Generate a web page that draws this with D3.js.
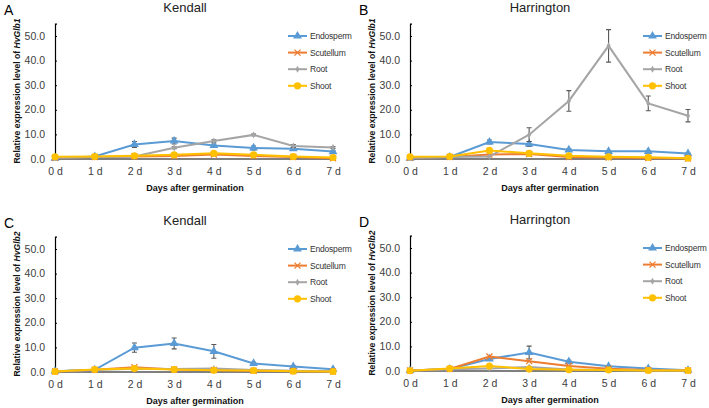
<!DOCTYPE html>
<html><head><meta charset="utf-8">
<script src="https://cdn.jsdelivr.net/npm/d3@7"></script>
<style>body{margin:0;background:#fff}svg{display:block}</style>
</head><body><svg id="c" width="709" height="408"></svg>
<script>
const days = ["0 d","1 d","2 d","3 d","4 d","5 d","6 d","7 d"];
const seriesNames = ["Endosperm","Scutellum","Root","Shoot"];
const seriesColors = ["#5B9BD5","#ED7D31","#A5A5A5","#FFC000"];
const yTicks = [0,10,20,30,40,50];
const panelLetters = ["A","B","C","D"];
const panelTitles = ["Kendall","Harrington","Kendall","Harrington"];
const panelGenes = ["HvGlb1","HvGlb1","HvGlb2","HvGlb2"];

// Panel A: Kendall HvGlb1
const aEndosperm = [0.3,1.0,5.9,7.3,5.5,4.5,4.2,3.0];
const aScutellum = [0.5,0.8,1.0,1.2,1.8,1.2,0.8,0.3];
const aRoot      = [0.5,0.8,1.0,4.6,7.3,9.8,5.3,4.7];
const aShoot     = [0.9,1.0,1.3,1.7,2.3,1.7,1.0,0.6];
const aErrEndosperm = [0,0,1.2,1.2,0.6,0.8,0.6,0.3];
const aErrRoot      = [0,0,0,0.4,0.5,0.3,0.6,0.4];

// Panel B: Harrington HvGlb1
const bEndosperm = [0.3,0.8,6.9,6.1,3.7,3.1,3.1,2.2];
const bScutellum = [0.5,0.8,1.8,2.0,0.8,0.6,0.4,0.2];
const bRoot      = [0.5,0.8,1.0,9.9,23.6,46.0,22.6,17.6];
const bShoot     = [0.9,1.0,3.5,2.3,1.3,0.9,0.7,0.3];
const bErrEndosperm = [0,0,0.8,1.0,0.4,0.3,0.3,0.2];
const bErrRoot      = [0,0,0,2.8,4.2,6.6,3.0,2.5];

// Panel C: Kendall HvGlb2
const cEndosperm = [0.3,0.9,9.9,11.6,8.4,3.5,2.2,1.1];
const cScutellum = [0.2,0.9,1.9,1.0,0.8,0.5,0.4,0.2];
const cRoot      = [0.3,0.8,1.3,1.2,1.4,0.8,0.5,0.3];
const cShoot     = [0.2,1.0,1.4,1.0,0.7,0.6,0.3,0.2];
const cErrEndosperm = [0,0,1.9,2.2,2.8,0.4,0.3,0.2];
const cErrRoot      = [0,0,0,0,0,0,0,0];

// Panel D: Harrington HvGlb2
const dEndosperm = [0.2,0.8,4.9,7.5,3.8,1.9,1.0,0.3];
const dScutellum = [0.2,0.8,5.9,4.0,2.0,0.9,0.4,0.2];
const dRoot      = [0.2,0.7,1.0,1.6,0.6,0.4,0.2,0.2];
const dShoot     = [0.1,1.0,2.0,0.8,0.5,0.4,0.2,0.2];
const dErrEndosperm = [0,0,0.5,2.6,0.6,0.3,0.2,0.1];
const dErrRoot      = [0,0,0,0,0,0,0,0];

const panelSeries = [
  [aEndosperm,aScutellum,aRoot,aShoot],
  [bEndosperm,bScutellum,bRoot,bShoot],
  [cEndosperm,cScutellum,cRoot,cShoot],
  [dEndosperm,dScutellum,dRoot,dShoot]
];
const panelErrors = [
  [aErrEndosperm,null,aErrRoot,null],
  [bErrEndosperm,null,bErrRoot,null],
  [cErrEndosperm,null,cErrRoot,null],
  [dErrEndosperm,null,dErrRoot,null]
];

const svg = d3.select("#c");
const FONT = "Liberation Sans, Arial, sans-serif";
const origins = [[0,0],[355,0],[0,213],[355,212]];

function marker(g, idx, x, y, color){
  if(idx===0){
    g.append("path").attr("d", d3.symbol(d3.symbolTriangle, 34)()).attr("transform",`translate(${x},${y})`).attr("fill",color);
  } else if(idx===1){
    const s=3;
    g.append("path").attr("d",`M${x-s},${y-s}L${x+s},${y+s}M${x-s},${y+s}L${x+s},${y-s}`).attr("stroke",color).attr("stroke-width",1.3).attr("fill","none");
  } else if(idx===2){
    g.append("path").attr("d", d3.symbol(d3.symbolDiamond, 14)()).attr("transform",`translate(${x},${y})`).attr("fill",color);
  } else {
    g.append("circle").attr("cx",x).attr("cy",y).attr("r",3.6).attr("fill",color);
  }
}

panelSeries.forEach((series, p) => {
  const [ox, oy] = origins[p];
  const g = svg.append("g");
  const x = d3.scalePoint().domain(days).range([ox+55, ox+333]);
  const y = d3.scaleLinear().domain([0,55]).range([oy+159, oy+159-135.3]);

  // letter & title
  g.append("text").attr("x", ox+4).attr("y", oy+15).attr("font-family",FONT).attr("font-size",14).attr("fill","#000").text(panelLetters[p]);
  g.append("text").attr("x", ox+185).attr("y", oy+12).attr("text-anchor","middle").attr("font-family",FONT).attr("font-size",13).attr("fill","#222").text(panelTitles[p]);

  // y axis
  const ya = g.append("g").attr("transform",`translate(${ox+55},0)`)
    .call(d3.axisRight(y).tickValues(yTicks).tickSize(2).tickFormat(""));
  ya.select(".domain").attr("stroke","#000").attr("stroke-width",1.2);
  ya.selectAll(".tick line").attr("stroke","#000");
  g.selectAll(null).data(yTicks).enter().append("text")
    .attr("x", ox+45).attr("y", d=>y(d)).attr("dy","0.35em").attr("text-anchor","end")
    .attr("font-family",FONT).attr("font-size",10.5).attr("fill","#404040").text(d=>d3.format(".1f")(d));

  // x axis
  const xa = g.append("g").attr("transform",`translate(0,${y(0)})`)
    .call(d3.axisBottom(x).tickSize(0).tickPadding(9));
  xa.select(".domain").attr("stroke","#000").attr("stroke-width",1.2).attr("d",`M${ox+55},0H${ox+335}`);
  xa.selectAll(".tick text").attr("font-family",FONT).attr("font-size",10.5).attr("fill","#404040").attr("dy","0.71em");

  // axis titles
  g.append("text").attr("x", ox+195).attr("y", oy+191).attr("text-anchor","middle")
    .attr("font-family",FONT).attr("font-size",9).attr("font-weight","bold").attr("fill","#111").text("Days after germination");
  const yt = g.append("text").attr("transform",`translate(${ox+20},${oy+91}) rotate(-90)`).attr("text-anchor","middle")
    .attr("font-family",FONT).attr("font-size",8.6).attr("font-weight","bold").attr("fill","#111");
  yt.append("tspan").text("Relative expression level of ");
  yt.append("tspan").attr("font-style","italic").text(panelGenes[p]);

  // series
  series.forEach((vals, si) => {
    const col = seriesColors[si];
    const err = panelErrors[p][si];
    if(err){
      vals.forEach((v,i)=>{
        if(err[i]>0){
          const cx = x(days[i]);
          g.append("path").attr("d",`M${cx},${y(v-err[i])}V${y(v+err[i])}M${cx-2.5},${y(v-err[i])}H${cx+2.5}M${cx-2.5},${y(v+err[i])}H${cx+2.5}`)
            .attr("stroke","#595959").attr("stroke-width",1.1).attr("fill","none");
        }
      });
    }
    const line = d3.line().x((d,i)=>x(days[i])).y(d=>y(d));
    g.append("path").datum(vals).attr("d",line).attr("fill","none").attr("stroke",col).attr("stroke-width",2);
    vals.forEach((v,i)=>marker(g, si, x(days[i]), y(v), col));
  });

  // legend
  seriesNames.forEach((n, si) => {
    const ly = oy + 36 + si*16.6;
    g.append("line").attr("x1",ox+288).attr("x2",ox+307).attr("y1",ly).attr("y2",ly).attr("stroke",seriesColors[si]).attr("stroke-width",2);
    marker(g, si, ox+297.5, ly, seriesColors[si]);
    g.append("text").attr("x",ox+310).attr("y",ly).attr("dy","0.35em").attr("font-family",FONT).attr("font-size",8.5).attr("letter-spacing","-0.2").attr("fill","#333").text(n);
  });
});
</script></body></html>
